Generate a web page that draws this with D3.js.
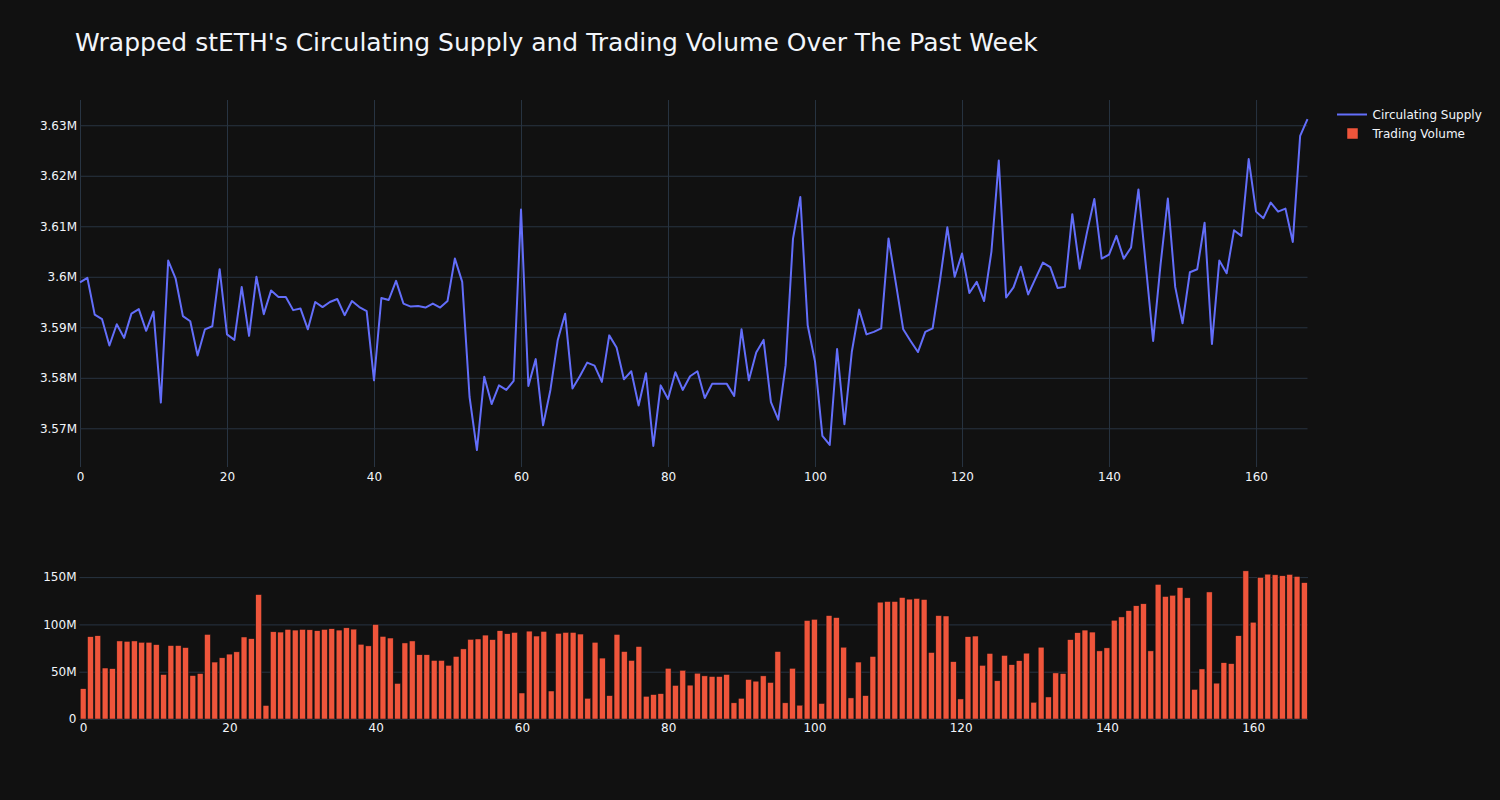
<!DOCTYPE html>
<html>
<head>
<meta charset="utf-8">
<script src="https://cdn.jsdelivr.net/npm/d3@7"></script>
<style>
  html, body { margin: 0; padding: 0; background: #111111; }
  svg { display: block; }
  text { font-family: "DejaVu Sans", Verdana, sans-serif; fill: #f2f5fa; }
</style>
</head>
<body>
<svg id="chart" width="1500" height="800"></svg>
<script>
// ---------------- DATA ----------------
const titleText = "Wrapped stETH's Circulating Supply and Trading Volume Over The Past Week";
const seriesNames = ["Circulating Supply", "Trading Volume"];

// Hour index (0..167) over the past week
const hours = d3.range(0, 168);

// Circulating supply, in millions
const supplyM = [
  3.5989, 3.5998, 3.5925, 3.5916, 3.5864, 3.5906, 3.5879, 3.5927, 3.5936, 3.5893,
  3.5931, 3.5751, 3.6032, 3.5997, 3.5922, 3.5912, 3.5844, 3.5896, 3.5902, 3.6015,
  3.5886, 3.5875, 3.5980, 3.5883, 3.6000, 3.5926, 3.5973, 3.5960, 3.5960, 3.5934,
  3.5937, 3.5896, 3.5950, 3.5940, 3.5950, 3.5956, 3.5924, 3.5952, 3.5940, 3.5932,
  3.5795, 3.5958, 3.5954, 3.5992, 3.5947, 3.5941, 3.5942, 3.5939, 3.5947, 3.5939,
  3.5952, 3.6036, 3.5990, 3.5762, 3.5657, 3.5802, 3.5748, 3.5785, 3.5776, 3.5794,
  3.6133, 3.5784, 3.5837, 3.5706, 3.5776, 3.5875, 3.5927, 3.5779, 3.5803, 3.5830,
  3.5824, 3.5792, 3.5884, 3.5860, 3.5797, 3.5813, 3.5745, 3.5809, 3.5665, 3.5785,
  3.5758, 3.5811, 3.5776, 3.5803, 3.5813, 3.5760, 3.5788, 3.5788, 3.5788, 3.5764,
  3.5896, 3.5795, 3.5850, 3.5875, 3.5752, 3.5717, 3.5825, 3.6075, 3.6158, 3.5904,
  3.5832, 3.5685, 3.5667, 3.5857, 3.5708, 3.5851, 3.5935, 3.5886, 3.5891, 3.5898,
  3.6076, 3.5987, 3.5896, 3.5873, 3.5851, 3.5891, 3.5898, 3.5993, 3.6098, 3.6000,
  3.6046, 3.5968, 3.5990, 3.5952, 3.6050, 3.6230, 3.5959, 3.5979, 3.6020, 3.5965,
  3.5997, 3.6028, 3.6019, 3.5978, 3.5980, 3.6124, 3.6016, 3.6088, 3.6154, 3.6036,
  3.6044, 3.6081, 3.6036, 3.6058, 3.6173, 3.6023, 3.5873, 3.6023, 3.6155, 3.5980,
  3.5908, 3.6009, 3.6015, 3.6107, 3.5867, 3.6032, 3.6007, 3.6092, 3.6081, 3.6233,
  3.6129, 3.6116, 3.6147, 3.6129, 3.6135, 3.6069, 3.6279, 3.6312
];

// Trading volume, in millions
const volumeM = [
  32.0, 87.0, 88.0, 53.9, 53.2, 82.5, 82.1, 82.5, 81.1, 81.1,
  78.6, 47.0, 77.6, 77.6, 75.5, 45.9, 48.0, 89.4, 60.2, 64.7,
  68.6, 71.0, 86.7, 84.9, 131.5, 14.3, 92.2, 91.9, 94.7, 94.0,
  94.7, 94.3, 93.3, 94.7, 95.4, 94.0, 96.4, 95.0, 79.0, 77.3,
  99.9, 87.3, 85.6, 37.6, 80.4, 82.5, 67.9, 67.9, 61.9, 61.9,
  56.7, 66.1, 74.1, 84.2, 84.6, 88.7, 83.9, 93.3, 90.1, 91.5,
  27.5, 92.9, 87.7, 92.6, 29.6, 90.5, 91.5, 91.5, 89.8, 21.9,
  81.1, 64.4, 24.7, 89.4, 71.3, 61.9, 76.6, 24.0, 25.8, 26.8,
  53.6, 35.5, 51.5, 35.8, 48.4, 45.6, 44.9, 44.9, 47.0, 17.1,
  21.9, 41.8, 40.0, 45.6, 38.6, 71.3, 17.1, 53.6, 14.6, 104.1,
  105.4, 16.4, 109.3, 107.2, 75.9, 22.3, 60.2, 24.7, 66.1, 123.5,
  124.2, 124.2, 128.4, 126.7, 127.4, 126.3, 70.3, 109.3, 108.9, 60.6,
  21.2, 87.0, 87.7, 56.7, 69.3, 40.4, 67.2, 57.4, 61.6, 69.6,
  17.7, 75.9, 23.3, 48.7, 48.0, 83.9, 91.2, 94.0, 91.9, 72.0,
  75.2, 104.4, 107.9, 114.5, 119.7, 121.8, 72.0, 142.3, 129.5, 130.8,
  138.9, 128.1, 31.3, 52.9, 134.3, 37.9, 59.5, 58.5, 88.0, 156.6,
  102.3, 149.6, 153.1, 152.4, 151.4, 152.8, 150.7, 144.1
];

// Tick values and labels
const xTicks = [0, 20, 40, 60, 80, 100, 120, 140, 160];
const xTickLabels = ["0", "20", "40", "60", "80", "100", "120", "140", "160"];
const supplyTicks = [3.57e6, 3.58e6, 3.59e6, 3.60e6, 3.61e6, 3.62e6, 3.63e6];
const supplyTickLabels = ["3.57M", "3.58M", "3.59M", "3.6M", "3.61M", "3.62M", "3.63M"];
const volumeTicks = [0, 50e6, 100e6, 150e6];
const volumeTickLabels = ["0", "50M", "100M", "150M"];

// ---------------- STYLE ----------------
const COLORS = { bg: "#111111", grid: "#283442", line: "#636efa", bar: "#EF553B", text: "#f2f5fa" };
const FONT = '"DejaVu Sans", Verdana, sans-serif';

const supply = hours.map((h, i) => ({ x: h, y: supplyM[i] * 1e6 }));
const volume = hours.map((h, i) => ({ x: h, y: volumeM[i] * 1e6 }));

const svg = d3.select("#chart");
svg.append("rect").attr("width", 1500).attr("height", 800).attr("fill", COLORS.bg);

// title
svg.append("text")
  .attr("x", 75).attr("y", 50.5)
  .style("font-size", "25px")
  .text(titleText);

// ---------------- TOP PANEL: line ----------------
const pTop = { x0: 80, x1: 1307.5, y0: 100, y1: 467 };
const xTop = d3.scaleLinear().domain([0, 167]).range([pTop.x0, pTop.x1]);
const yTop = d3.scaleLinear().domain([3.56234e6, 3.6350e6]).range([pTop.y1, pTop.y0]);

const gTop = svg.append("g");

// vertical grid
gTop.append("g")
  .attr("transform", `translate(0,${pTop.y1})`)
  .call(d3.axisBottom(xTop).tickValues(xTicks).tickSize(-(pTop.y1 - pTop.y0)).tickFormat(""))
  .call(g => g.select(".domain").remove())
  .call(g => g.selectAll("line").attr("stroke", COLORS.grid).attr("stroke-width", 1));

// horizontal grid
gTop.append("g")
  .attr("transform", `translate(${pTop.x0},0)`)
  .call(d3.axisLeft(yTop).tickValues(supplyTicks).tickSize(-(pTop.x1 - pTop.x0)).tickFormat(""))
  .call(g => g.select(".domain").remove())
  .call(g => g.selectAll("line").attr("stroke", COLORS.grid).attr("stroke-width", 1));

// x tick labels
gTop.append("g")
  .attr("transform", `translate(0,${pTop.y1})`)
  .call(d3.axisBottom(xTop).tickValues(xTicks).tickSize(0).tickPadding(5)
    .tickFormat((d, i) => xTickLabels[i]))
  .call(g => g.select(".domain").remove())
  .call(g => g.selectAll("text").style("font-size", "12px").attr("fill", COLORS.text)
    .style("font-family", FONT));

// y tick labels
gTop.append("g")
  .attr("transform", `translate(${pTop.x0},0)`)
  .call(d3.axisLeft(yTop).tickValues(supplyTicks).tickSize(0).tickPadding(3)
    .tickFormat((d, i) => supplyTickLabels[i]))
  .call(g => g.select(".domain").remove())
  .call(g => g.selectAll("text").style("font-size", "12px").attr("fill", COLORS.text)
    .style("font-family", FONT));

const line = d3.line().x(d => xTop(d.x)).y(d => yTop(d.y));
gTop.append("path")
  .datum(supply)
  .attr("d", line)
  .attr("fill", "none")
  .attr("stroke", COLORS.line)
  .attr("stroke-width", 2)
  .attr("stroke-linejoin", "round");

// ---------------- BOTTOM PANEL: bars ----------------
const pBot = { x0: 79.5, x1: 1308, y0: 563, y1: 719 };
const xBot = d3.scaleLinear().domain([-0.5, 167.5]).range([pBot.x0, pBot.x1]);
const yBot = d3.scaleLinear().domain([0, 164.9e6]).range([pBot.y1, pBot.y0]);

const gBot = svg.append("g");

gBot.append("g")
  .attr("transform", `translate(${pBot.x0},0)`)
  .call(d3.axisLeft(yBot).tickValues(volumeTicks).tickSize(-(pBot.x1 - pBot.x0)).tickFormat(""))
  .call(g => g.select(".domain").remove())
  .call(g => g.selectAll("line").attr("stroke", COLORS.grid).attr("stroke-width", 1));

const step = xBot(1) - xBot(0);
const bw = step * 0.8;
gBot.append("g").selectAll("rect")
  .data(volume)
  .join("rect")
  .attr("x", d => xBot(d.x) - bw / 2)
  .attr("width", bw)
  .attr("y", d => yBot(d.y))
  .attr("height", d => yBot(0) - yBot(d.y))
  .attr("fill", COLORS.bar)
  .attr("stroke", COLORS.bg)
  .attr("stroke-width", 0.5);

gBot.append("g")
  .attr("transform", `translate(0,${pBot.y1})`)
  .call(d3.axisBottom(xBot).tickValues(xTicks).tickSize(0).tickPadding(4)
    .tickFormat((d, i) => xTickLabels[i]))
  .call(g => g.select(".domain").remove())
  .call(g => g.selectAll("text").style("font-size", "12px").attr("fill", COLORS.text)
    .style("font-family", FONT));

gBot.append("g")
  .attr("transform", `translate(${pBot.x0},0)`)
  .call(d3.axisLeft(yBot).tickValues(volumeTicks).tickSize(0).tickPadding(3)
    .tickFormat((d, i) => volumeTickLabels[i]))
  .call(g => g.select(".domain").remove())
  .call(g => g.selectAll("text").style("font-size", "12px").attr("fill", COLORS.text)
    .style("font-family", FONT));

// ---------------- LEGEND ----------------
const leg = svg.append("g").attr("transform", "translate(1337,0)");
leg.append("line")
  .attr("x1", 0).attr("x2", 30).attr("y1", 114.5).attr("y2", 114.5)
  .attr("stroke", COLORS.line).attr("stroke-width", 2);
leg.append("text").attr("x", 35.5).attr("y", 114.5).attr("dy", "0.35em")
  .style("font-size", "12px").text(seriesNames[0]);
leg.append("rect")
  .attr("x", 10).attr("y", 128).attr("width", 11).attr("height", 11)
  .attr("fill", COLORS.bar).attr("stroke", COLORS.bg).attr("stroke-width", 0.5);
leg.append("text").attr("x", 35.5).attr("y", 133.5).attr("dy", "0.35em")
  .style("font-size", "12px").text(seriesNames[1]);
</script>
</body>
</html>
